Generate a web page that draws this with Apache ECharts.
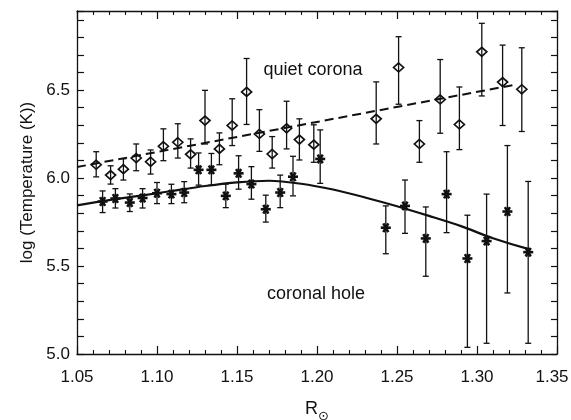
<!DOCTYPE html>
<html>
<head>
<meta charset="utf-8">
<script src="https://cdn.jsdelivr.net/npm/echarts@6/dist/echarts.min.js"></script>
<style>
html,body{margin:0;padding:0;background:#fff;}
#chart{width:571px;height:420px;}
</style>
</head>
<body>
<div id="chart"></div>
<script>
// ---- Quiet corona (diamonds) ----
var quietX  = [1.062, 1.071, 1.079, 1.087, 1.096, 1.104, 1.113, 1.121, 1.130, 1.139, 1.147, 1.156, 1.164, 1.172, 1.181, 1.189, 1.198, 1.237, 1.251, 1.264, 1.277, 1.289, 1.303, 1.316, 1.328];
var quietY  = [6.076, 6.017, 6.051, 6.114, 6.093, 6.181, 6.204, 6.135, 6.327, 6.166, 6.299, 6.490, 6.251, 6.137, 6.283, 6.219, 6.190, 6.337, 6.629, 6.194, 6.447, 6.305, 6.718, 6.546, 6.505];
var quietHi = [6.150, 6.070, 6.110, 6.194, 6.160, 6.280, 6.309, 6.223, 6.499, 6.257, 6.451, 6.680, 6.389, 6.236, 6.437, 6.337, 6.303, 6.547, 6.804, 6.327, 6.674, 6.518, 6.880, 6.756, 6.741];
var quietLo = [6.007, 5.966, 5.989, 6.042, 6.023, 6.099, 6.114, 6.057, 6.194, 6.076, 6.185, 6.305, 6.152, 6.057, 6.166, 6.103, 6.090, 6.194, 6.420, 6.090, 6.255, 6.162, 6.467, 6.299, 6.265];

// ---- Coronal hole (asterisks) ----
var holeX  = [1.066, 1.074, 1.083, 1.091, 1.100, 1.109, 1.117, 1.126, 1.134, 1.143, 1.151, 1.159, 1.168, 1.177, 1.185, 1.202, 1.243, 1.255, 1.268, 1.281, 1.294, 1.306, 1.319, 1.332];
var holeY  = [5.867, 5.884, 5.861, 5.887, 5.914, 5.909, 5.918, 6.047, 6.047, 5.899, 6.027, 5.966, 5.823, 5.918, 6.008, 6.109, 5.718, 5.842, 5.657, 5.909, 5.543, 5.642, 5.810, 5.579];
var holeHi = [5.927, 5.940, 5.910, 5.940, 5.975, 5.965, 5.980, 6.143, 6.140, 5.966, 6.127, 6.065, 5.903, 6.017, 6.124, 6.274, 5.842, 5.989, 5.836, 6.150, 5.789, 5.909, 6.185, 5.981];
var holeLo = [5.804, 5.830, 5.810, 5.830, 5.855, 5.855, 5.860, 5.960, 5.960, 5.832, 5.937, 5.880, 5.750, 5.832, 5.899, 5.970, 5.570, 5.686, 5.442, 5.690, 5.038, 5.061, 5.347, 5.061];

// ---- Model curves ----
var quietFitX = [1.050, 1.324];
var quietFitY = [6.063, 6.531];
var holeFitX = [1.050, 1.070, 1.090, 1.110, 1.130, 1.150, 1.170, 1.190, 1.210, 1.230, 1.250, 1.270, 1.290, 1.310, 1.333];
var holeFitY = [5.845, 5.875, 5.900, 5.928, 5.955, 5.976, 5.985, 5.968, 5.935, 5.890, 5.840, 5.785, 5.727, 5.658, 5.595];

// ---- Axis ticks / labels ----
var xMin = 1.05, xMax = 1.35, xStep = 0.05;
var yMin = 5.0, yMax = 6.95, yStep = 0.1, yLabelStep = 0.5;

var INK = '#111';
var FONT = '"Liberation Sans", Arial, Helvetica, sans-serif';

function zip2(a, b) { return a.map(function (v, i) { return [v, b[i]]; }); }
function errData(x, lo, hi) { return x.map(function (v, i) { return [v, lo[i], hi[i]]; }); }

function renderErr(params, api) {
  var x = api.value(0);
  var top = api.coord([x, api.value(2)]);
  var bot = api.coord([x, api.value(1)]);
  var cw = 3;
  var st = { stroke: INK, lineWidth: 1.3 };
  return {
    type: 'group',
    children: [
      { type: 'line', shape: { x1: top[0], y1: top[1], x2: bot[0], y2: bot[1] }, style: st },
      { type: 'line', shape: { x1: top[0] - cw, y1: top[1], x2: top[0] + cw, y2: top[1] }, style: st },
      { type: 'line', shape: { x1: bot[0] - cw, y1: bot[1], x2: bot[0] + cw, y2: bot[1] }, style: st }
    ]
  };
}

function renderStar(params, api) {
  var p = api.coord([api.value(0), api.value(1)]);
  var r = 5;
  var st = { stroke: INK, lineWidth: 2.6 };
  var kids = [];
  for (var k = 0; k < 3; k++) {
    var a = k * Math.PI / 3;
    var dx = Math.cos(a) * r, dy = Math.sin(a) * r;
    kids.push({ type: 'line', shape: { x1: p[0] - dx, y1: p[1] - dy, x2: p[0] + dx, y2: p[1] + dy }, style: st });
  }
  return { type: 'group', children: kids };
}

function isLabelTick(v) {
  var q = (v - yMin) / yLabelStep;
  return Math.abs(q - Math.round(q)) < 1e-6;
}

var chart = echarts.init(document.getElementById('chart'), null, { renderer: 'canvas' });

var axisLineStyle = { color: INK, width: 1.3 };

var option = {
  backgroundColor: '#fff',
  animation: false,
  grid: { left: 77, right: 14, top: 11, bottom: 66, containLabel: false, outerBoundsMode: 'none' },
  xAxis: [
    {
      type: 'value', min: xMin, max: xMax, interval: xStep, position: 'bottom',
      axisLine: { show: true, onZero: false, lineStyle: axisLineStyle },
      axisTick: { show: true, inside: true, length: 8, lineStyle: { color: INK, width: 1.2 } },
      minorTick: { show: true, splitNumber: 5, length: 4, lineStyle: { color: INK, width: 1.1 } },
      splitLine: { show: false },
      axisLabel: { color: INK, fontSize: 17, fontFamily: FONT, margin: 15,
        formatter: function (v) {
          var s = v.toFixed(2);
          return Math.abs(v - xMax) < 1e-9 ? '{last|' + s + '}' : s;
        },
        rich: { last: { fontSize: 17, fontFamily: FONT, color: INK, padding: [0, 10, 0, 0] } }
      },
      name: '{r|R}{s|\u2299}',
      nameLocation: 'middle', nameGap: 46,
      nameTextStyle: {
        color: INK, fontFamily: FONT,
        rich: {
          r: { fontSize: 18, fontFamily: FONT, color: INK, verticalAlign: 'bottom', padding: [0, 0, 5, 0] },
          s: { fontSize: 13, fontFamily: '"DejaVu Sans", sans-serif', color: INK, verticalAlign: 'bottom' }
        }
      }
    },
    {
      type: 'value', min: xMin, max: xMax, interval: xStep, position: 'top',
      axisLine: { show: true, onZero: false, lineStyle: axisLineStyle },
      axisTick: { show: true, inside: true, length: 8, lineStyle: { color: INK, width: 1.2 } },
      minorTick: { show: true, splitNumber: 5, length: 4, lineStyle: { color: INK, width: 1.1 } },
      splitLine: { show: false },
      axisLabel: { show: false }
    }
  ],
  yAxis: [
    {
      type: 'value', min: yMin, max: yMax, interval: yStep, position: 'left',
      axisLine: { show: true, onZero: false, lineStyle: axisLineStyle },
      axisTick: { show: true, inside: true, length: 7, lineStyle: { color: INK, width: 1.2 } },
      splitLine: { show: false },
      axisLabel: { color: INK, fontSize: 17, fontFamily: FONT, margin: 7,
        formatter: function (v) { return isLabelTick(v) ? v.toFixed(1) : ''; } },
      name: 'log (Temperature (K))',
      nameLocation: 'middle', nameGap: 41,
      nameTextStyle: { color: INK, fontSize: 17, fontFamily: FONT }
    },
    {
      type: 'value', min: yMin, max: yMax, interval: yStep, position: 'right',
      axisLine: { show: true, onZero: false, lineStyle: axisLineStyle },
      axisTick: { show: true, inside: true, length: 6, lineStyle: { color: INK, width: 1.2 } },
      splitLine: { show: false },
      axisLabel: { show: false }
    }
  ],
  series: [
    {
      type: 'line', xAxisIndex: 0, yAxisIndex: 0,
      data: zip2(quietFitX, quietFitY), symbol: 'none', silent: true,
      lineStyle: { color: INK, width: 2, type: [9, 5] }, z: 2
    },
    {
      type: 'line', xAxisIndex: 0, yAxisIndex: 0,
      data: zip2(holeFitX, holeFitY), symbol: 'none', smooth: 0.3, silent: true,
      lineStyle: { color: INK, width: 2.2 }, z: 2
    },
    {
      type: 'custom', xAxisIndex: 0, yAxisIndex: 0,
      data: errData(quietX, quietLo, quietHi), renderItem: renderErr, z: 3,
      encode: { x: 0, y: [1, 2] }
    },
    {
      type: 'custom', xAxisIndex: 0, yAxisIndex: 0,
      data: errData(holeX, holeLo, holeHi), renderItem: renderErr, z: 3,
      encode: { x: 0, y: [1, 2] }
    },
    {
      type: 'scatter', xAxisIndex: 0, yAxisIndex: 0,
      data: zip2(quietX, quietY), symbol: 'diamond', symbolSize: [10, 9],
      itemStyle: { color: 'rgba(255,255,255,0)', borderColor: INK, borderWidth: 1.7, opacity: 1 }, z: 4
    },
    {
      type: 'custom', xAxisIndex: 0, yAxisIndex: 0,
      data: zip2(holeX, holeY), renderItem: renderStar, z: 5,
      encode: { x: 0, y: 1 }
    }
  ],
  graphic: [
    { type: 'text', x: 313, y: 70, z: 10,
      style: { text: 'quiet corona', fontSize: 18, fontFamily: FONT, fill: INK, align: 'center', verticalAlign: 'middle' } },
    { type: 'text', x: 316, y: 294, z: 10,
      style: { text: 'coronal hole', fontSize: 18, fontFamily: FONT, fill: INK, align: 'center', verticalAlign: 'middle' } }
  ]
};

chart.setOption(option);
</script>
</body>
</html>
